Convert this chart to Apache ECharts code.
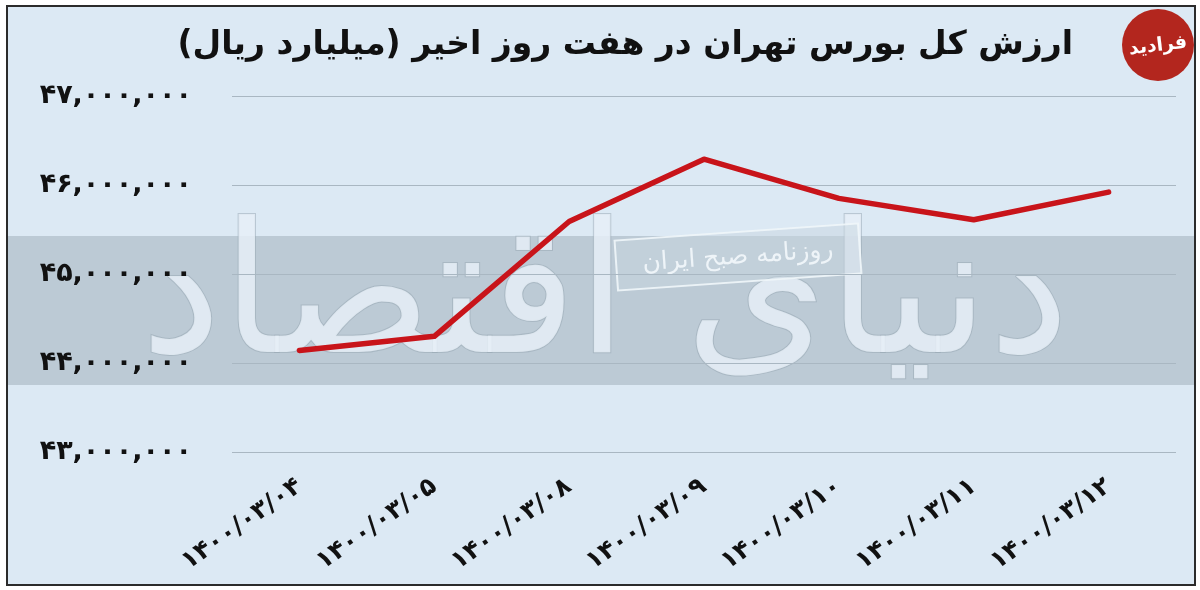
<!DOCTYPE html>
<html>
<head>
<meta charset="utf-8">
<script src="https://cdn.jsdelivr.net/npm/echarts@6/dist/echarts.min.js"></script>
<style>
html,body{margin:0;padding:0;background:#ffffff;}
#chart{width:1200px;height:590px;}
</style>
</head>
<body>
<div id="chart"></div>
<script>
// ---- data ----
const categories = ['۱۴۰۰/۰۳/۰۴','۱۴۰۰/۰۳/۰۵','۱۴۰۰/۰۳/۰۸','۱۴۰۰/۰۳/۰۹','۱۴۰۰/۰۳/۱۰','۱۴۰۰/۰۳/۱۱','۱۴۰۰/۰۳/۱۲'];
const marketValue = [44140000, 44300000, 45590000, 46290000, 45850000, 45610000, 45920000];
const yTicks = [43000000, 44000000, 45000000, 46000000, 47000000];
const titleText = 'ارزش کل بورس تهران در هفت روز اخیر (میلیارد ریال)';
const watermarkText = 'دنیای اقتصاد';
const stampText = 'روزنامه صبح ایران';
const logoText = 'فرادید';

const faDigits = '۰۱۲۳۴۵۶۷۸۹';
function toFa(n){
  const s = String(n).replace(/\B(?=(\d{3})+(?!\d))/g, ',');
  return s.replace(/\d/g, d => faDigits[+d]);
}
const RLM = '\u200F';

const chart = echarts.init(document.getElementById('chart'));
const FONT = '"DejaVu Sans", sans-serif';

chart.setOption({
  animation: false,
  backgroundColor: '#ffffff',
  title: {
    text: RLM + titleText + RLM,
    right: 122,
    top: 24,
    textStyle: {fontFamily: FONT, fontSize: 33, fontWeight: 'bold', color: '#111111'}
  },
  grid: {left: 232, right: 24, top: 96, bottom: 138},
  xAxis: {
    type: 'category',
    data: categories,
    boundaryGap: true,
    axisLine: {show: false},
    axisTick: {show: false},
    axisLabel: {
      rotate: 35,
      margin: 32,
      fontFamily: FONT,
      fontSize: 25,
      fontWeight: 'bold',
      color: '#111111'
    }
  },
  yAxis: {
    type: 'value',
    min: yTicks[0],
    max: yTicks[yTicks.length - 1],
    interval: 1000000,
    axisLine: {show: false},
    axisTick: {show: false},
    splitLine: {lineStyle: {color: '#a9b7c2', width: 1}},
    axisLabel: {
      margin: 40,
      fontFamily: FONT,
      fontSize: 27,
      fontWeight: 'bold',
      color: '#111111',
      formatter: v => toFa(v)
    }
  },
  graphic: [
    {type: 'rect', z: -30, silent: true,
     shape: {x: 7, y: 6, width: 1188, height: 579},
     style: {fill: '#dce9f4', stroke: '#2b2b2b', lineWidth: 2}},
    {type: 'rect', z: -29, silent: true,
     shape: {x: 8, y: 236, width: 1186, height: 149},
     style: {fill: '#bccad5'}},
    {type: 'text', z: -28, silent: true,
     x: 605, y: 305,
     style: {text: watermarkText, align: 'center', verticalAlign: 'middle', font: '182px "DejaVu Sans"', fill: 'rgba(230,239,247,0.85)', stroke: 'rgba(150,165,178,0.5)', lineWidth: 2}},
    {type: 'group', z: -27, silent: true, x: 738, y: 257, rotation: 0.07,
     children: [
       {type: 'rect', shape: {x: -122, y: -25, width: 244, height: 50},
        style: {fill: 'rgba(200,214,224,0.5)', stroke: 'rgba(240,246,250,0.9)', lineWidth: 2}},
       {type: 'text', style: {text: stampText, x: 0, y: 0, align: 'center', verticalAlign: 'middle', font: '25px "DejaVu Sans"', fill: 'rgba(240,246,250,0.95)'}}
     ]},
    {type: 'circle', z: 10, silent: true,
     shape: {cx: 1158, cy: 45, r: 36},
     style: {fill: '#b3261e'}},
    {type: 'text', z: 11, silent: true, x: 1158, y: 46, rotation: 0.12,
     style: {text: logoText, align: 'center', verticalAlign: 'middle', font: 'bold 19px "DejaVu Sans"', fill: '#ffffff'}}
  ],
  series: [{
    type: 'line',
    data: marketValue,
    symbol: 'none',
    lineStyle: {color: '#c8141a', width: 5.5, cap: 'round', join: 'round'},
    z: 5
  }]
});
</script>
</body>
</html>
